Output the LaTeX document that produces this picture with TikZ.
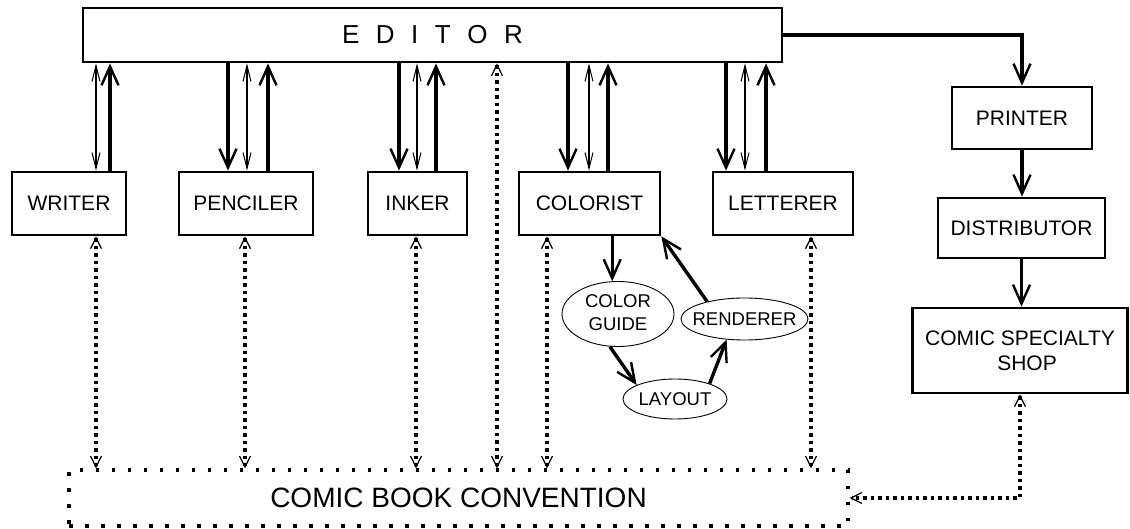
\documentclass[tikz,border=0pt]{standalone}
\usepackage{fontspec}
\setmainfont{Liberation Sans}
\usetikzlibrary{arrows.meta,shapes.geometric}
\newcommand\edsp{\hspace{16.5pt}}
\begin{document}
\begin{tikzpicture}[x=1pt,y=1pt,
  box/.style={draw, line width=2.8pt, minimum height=63pt, inner sep=0pt, font=\fontsize{21}{25}\selectfont},
  oval/.style={draw, ellipse, line width=0.9pt, inner sep=0pt, font=\fontsize{18.5}{23}\selectfont},
  thickarr/.style={line width=3.4pt, -{Straight Barb[length=19pt,width=17pt,line width=2.4pt]}},
  thinarr/.style={line width=1.1pt, {Straight Barb[length=16pt,width=8pt,line width=1pt]}-{Straight Barb[length=16pt,width=8pt,line width=1pt]}},
  dotarr/.style={line width=3.2pt, dash pattern=on 3.5pt off 4pt, {Straight Barb[length=11pt,width=11pt,line width=1.2pt]}-{Straight Barb[length=11pt,width=11pt,line width=1.2pt]}},
]
\useasboundingbox (0,0) rectangle (1130,528);

% nodes
\node[box, minimum width=699pt, minimum height=54pt, font=\fontsize{26}{30}\selectfont] (editor) at (432.5,493) {E\edsp D\edsp I\edsp T\edsp O\edsp R};
\node[box, minimum width=114pt] (writer) at (69,324.5) {WRITER};
\node[box, minimum width=134pt] (penciler) at (246,324.5) {PENCILER};
\node[box, minimum width=99pt] (inker) at (417.5,324.5) {INKER};
\node[box, minimum width=141pt] (colorist) at (589.5,324.5) {COLORIST};
\node[box, minimum width=140pt] (letterer) at (783,324.5) {LETTERER};
\node[box, minimum width=140pt, minimum height=62pt] (printer) at (1022,410) {PRINTER};
\node[box, minimum width=167pt, minimum height=60pt] (distributor) at (1021.5,300) {DISTRIBUTOR};
\node[box, minimum width=215pt, minimum height=85pt, align=center] (shop) at (1020,177.5) {COMIC SPECIALTY\\\hspace{14pt}SHOP};
\node[draw, line width=3.2pt, dash pattern=on 3.5pt off 12.5pt, minimum width=779pt, minimum height=56pt, inner sep=0pt, font=\fontsize{28}{32}\selectfont] (conv) at (458.5,30) {COMIC BOOK CONVENTION};

\node[oval, minimum width=112pt, minimum height=62pt] (cg) at (618,214) {\makebox[0pt]{\begin{tabular}{@{}c@{}}COLOR\\GUIDE\end{tabular}}};
\node[oval, minimum width=127pt, minimum height=42pt] (ren) at (744.5,209) {\makebox[0pt]{RENDERER}};
\node[oval, minimum width=104pt, minimum height=40pt] (lay) at (675,129) {\makebox[0pt]{LAYOUT}};

% writer
\coordinate (w1) at ([xshift=27pt]writer.north);
\coordinate (w2) at ([xshift=41pt]writer.north);
\draw[thinarr] (w1) -- (w1 |- editor.south);
\draw[thickarr] (w2) -- (w2 |- editor.south);
% penciler
\coordinate (p1) at ([xshift=-18pt]penciler.north);
\coordinate (p2) at ([xshift=1pt]penciler.north);
\coordinate (p3) at ([xshift=22pt]penciler.north);
\draw[thickarr] (p1 |- editor.south) -- (p1);
\draw[thinarr] (p2) -- (p2 |- editor.south);
\draw[thickarr] (p3) -- (p3 |- editor.south);
% inker
\coordinate (i1) at ([xshift=-18.5pt]inker.north);
\coordinate (i2) at ([xshift=-0.5pt]inker.north);
\coordinate (i3) at ([xshift=18.5pt]inker.north);
\draw[thickarr] (i1 |- editor.south) -- (i1);
\draw[thinarr] (i2) -- (i2 |- editor.south);
\draw[thickarr] (i3) -- (i3 |- editor.south);
% colorist
\coordinate (c1) at ([xshift=-21.5pt]colorist.north);
\coordinate (c2) at ([xshift=-0.5pt]colorist.north);
\coordinate (c3) at ([xshift=18.5pt]colorist.north);
\draw[thickarr] (c1 |- editor.south) -- (c1);
\draw[thinarr] (c2) -- (c2 |- editor.south);
\draw[thickarr] (c3) -- (c3 |- editor.south);
% letterer
\coordinate (l1) at ([xshift=-57pt]letterer.north);
\coordinate (l2) at ([xshift=-38pt]letterer.north);
\coordinate (l3) at ([xshift=-17pt]letterer.north);
\draw[thickarr] (l1 |- editor.south) -- (l1);
\draw[thinarr] (l2) -- (l2 |- editor.south);
\draw[thickarr] (l3) -- (l3 |- editor.south);

% distribution chain
\draw[thickarr] (editor.east) -| (printer.north);
\draw[thickarr] (printer.south) -- (printer.south |- distributor.north);
\draw[thickarr] (distributor.south) -- (distributor.south |- shop.north);

% colorist sub-process
\draw[thickarr] (cg.100 |- colorist.south) -- (cg.100);
\draw[thickarr] (cg.256) -- (lay.160);
\draw[thickarr] (lay.24) -- (ren.229);
\draw[thickarr] (ren.155) -- (colorist.south east);

% dotted links to convention
\coordinate (dw) at ([xshift=27pt]writer.south);
\coordinate (dp) at ([xshift=-1pt]penciler.south);
\coordinate (di) at ([xshift=-1.5pt]inker.south);
\coordinate (de) at ([xshift=64.5pt]editor.south);
\coordinate (dc) at ([xshift=-42.5pt]colorist.south);
\coordinate (dl) at ([xshift=28pt]letterer.south);
\draw[dotarr] (dw) -- (dw |- conv.north);
\draw[dotarr, line width=4pt] (dp) -- (dp |- conv.north);
\draw[dotarr] (di) -- (di |- conv.north);
\draw[dotarr] (de) -- (de |- conv.north);
\draw[dotarr] (dc) -- (dc |- conv.north);
\draw[dotarr] (dl) -- (dl |- conv.north);
\draw[dotarr] (shop.south) |- (conv.east);
\end{tikzpicture}
\end{document}
